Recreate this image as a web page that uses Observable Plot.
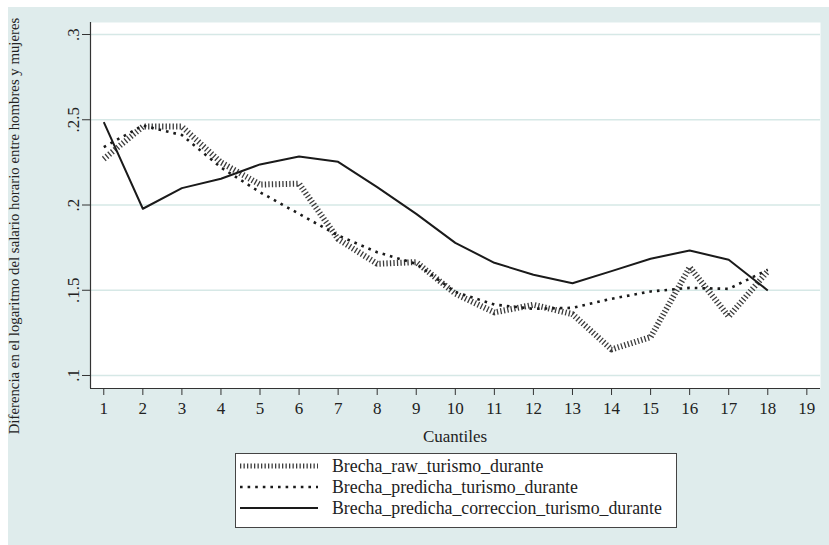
<!DOCTYPE html>
<html>
<head>
<meta charset="utf-8">
<script src="https://cdn.jsdelivr.net/npm/d3@7"></script>
<script src="https://cdn.jsdelivr.net/npm/@observablehq/plot@0.6"></script>
<style>
  html, body { margin: 0; padding: 0; background: #ffffff; }
  #page { position: relative; width: 829px; height: 545px; overflow: hidden; font-family: "Liberation Serif", serif; color: #222; }
  #bg { position: absolute; left: 8px; top: 7px; right: 0; bottom: 0; background: #dfecec; }
  #chart { position: absolute; left: 0; top: 0; }
  #ytitle { position: absolute; left: 14px; top: 226px; transform: translate(-50%, -50%) rotate(-90deg); white-space: nowrap; font-size: 14.8px; }
  #xtitle { position: absolute; left: 455px; top: 437px; transform: translate(-50%, -50%); white-space: nowrap; font-size: 17px; }
  #legend { position: absolute; left: 235px; top: 453px; }
</style>
</head>
<body>
<div id="page">
  <div id="bg"></div>
  <div id="chart"></div>
  <div id="ytitle">Diferencia en el logaritmo del salario horario entre hombres y mujeres</div>
  <div id="xtitle">Cuantiles</div>
  <svg id="legend" width="442" height="75"></svg>
</div>
<script>
// Quantile index and the three wage-gap series
const cuantiles = [1, 2, 3, 4, 5, 6, 7, 8, 9, 10, 11, 12, 13, 14, 15, 16, 17, 18];
const brechaRaw = [0.227, 0.246, 0.246, 0.225, 0.212, 0.2125, 0.180, 0.1655, 0.1665, 0.148, 0.137, 0.1415, 0.136, 0.1153, 0.1225, 0.1635, 0.1346, 0.1612];
const brechaPredicha = [0.234, 0.2466, 0.241, 0.222, 0.2075, 0.1948, 0.1821, 0.1723, 0.1655, 0.149, 0.1416, 0.1391, 0.1397, 0.145, 0.1493, 0.1514, 0.1508, 0.162];
const brechaCorreccion = [0.2486, 0.1978, 0.2099, 0.2154, 0.2238, 0.2284, 0.2253, 0.2105, 0.1948, 0.1778, 0.1661, 0.1591, 0.1541, 0.1612, 0.1685, 0.1733, 0.1679, 0.1499];

const seriesNames = ["Brecha_raw_turismo_durante", "Brecha_predicha_turismo_durante", "Brecha_predicha_correccion_turismo_durante"];

// Axis ticks
const xTicks = d3.range(1, 20);
const yTicks = [0.1, 0.15, 0.2, 0.25, 0.3];
const yTickLabels = [".1", ".1.5", ".2", ".2.5", ".3"];

// Line styles: hatched, dotted, solid
const styles = [
  {stroke: "#3c3c3c", strokeWidth: 6, strokeDasharray: "1.3,2.2"},
  {stroke: "#1a1a1a", strokeWidth: 2.6, strokeDasharray: "2.6,5"},
  {stroke: "#1a1a1a", strokeWidth: 2, strokeDasharray: null}
];

const table = (vals) => cuantiles.map((q, i) => ({q, v: vals[i]}));
const series = [brechaRaw, brechaPredicha, brechaCorreccion].map(table);

const xDomain = [0.66, 19.35];
const yDomain = [0.092375, 0.30704];

const chart = Plot.plot({
  width: 829,
  height: 545,
  marginLeft: 90,
  marginRight: 9,
  marginTop: 22,
  marginBottom: 157,
  x: {domain: xDomain},
  y: {domain: yDomain},
  style: {background: "transparent", fontFamily: "Liberation Serif, serif", fontSize: "17px", color: "#222", overflow: "visible"},
  marks: [
    Plot.frame({fill: "white", stroke: "none"}),
    Plot.ruleY(yTicks, {stroke: "#d6e8e6", strokeWidth: 1.3}),
    ...series.map((data, i) => Plot.line(data, {
      x: "q", y: "v",
      stroke: styles[i].stroke,
      strokeWidth: styles[i].strokeWidth,
      strokeDasharray: styles[i].strokeDasharray,
      strokeLinecap: "butt",
      strokeLinejoin: "round"
    })),
    Plot.ruleX([xDomain[0]], {stroke: "#333", strokeWidth: 1.2}),
    Plot.ruleY([yDomain[0]], {stroke: "#333", strokeWidth: 1.2}),
    Plot.axisX(xTicks, {tickSize: 7, tickPadding: 6, tickFormat: d => String(d), label: null, stroke: "#333", fontSize: 17}),
    Plot.axisY(yTicks, {tickSize: 8, tickFormat: () => "", label: null, stroke: "#333"}),
    Plot.text(yTicks, {
      y: d => d,
      frameAnchor: "left",
      dx: -17,
      rotate: -90,
      text: (d, i) => yTickLabels[i],
      textAnchor: "middle",
      lineAnchor: "middle",
      fontSize: 17,
      fill: "#222"
    })
  ]
});
document.getElementById("chart").append(chart);

// Legend box with line samples
const leg = d3.select("#legend");
leg.append("rect").attr("x", 0.5).attr("y", 0.5).attr("width", 441).attr("height", 74)
  .attr("fill", "white").attr("stroke", "#444").attr("stroke-width", 1);
const rowY = [13, 34, 55];
seriesNames.forEach((name, i) => {
  const s = styles[i];
  const ln = leg.append("line").attr("x1", 5).attr("x2", 83).attr("y1", rowY[i]).attr("y2", rowY[i])
    .attr("stroke", s.stroke).attr("stroke-width", i === 0 ? 5 : s.strokeWidth);
  if (s.strokeDasharray) ln.attr("stroke-dasharray", s.strokeDasharray);
  leg.append("text").attr("x", 97).attr("y", rowY[i]).attr("dy", "0.35em")
    .style("font-family", "'Liberation Serif', serif").attr("font-size", 17.8).attr("fill", "#222")
    .text(name);
});
</script>
</body>
</html>
